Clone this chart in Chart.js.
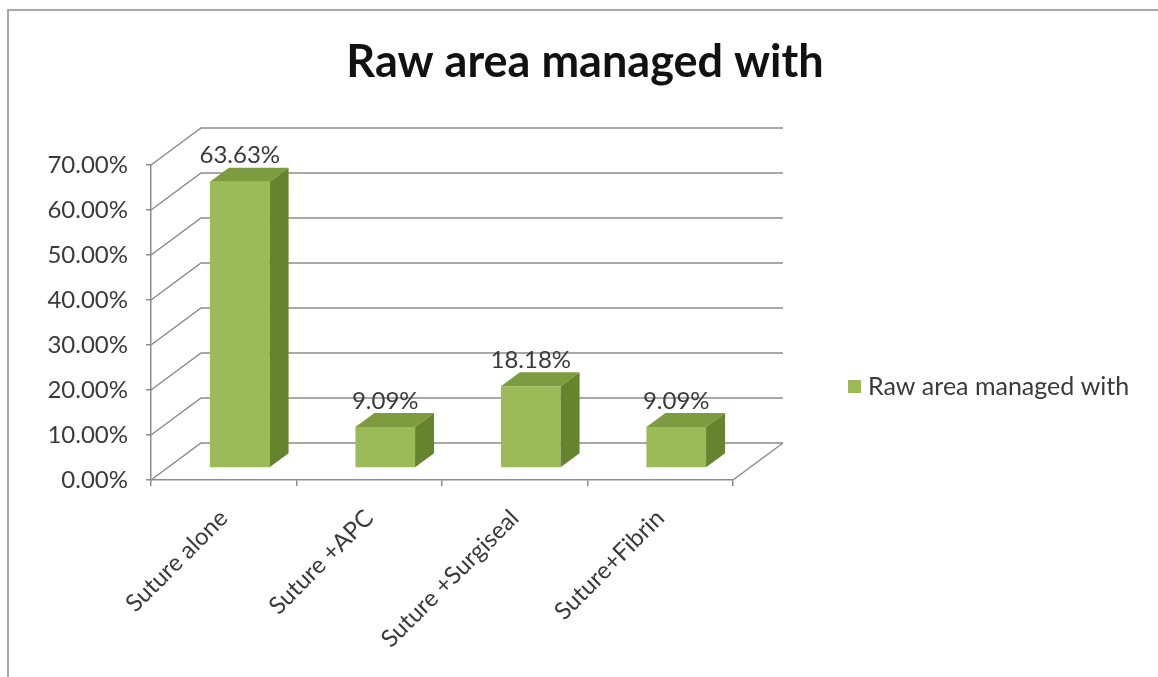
<!DOCTYPE html>
<html>
<head>
<meta charset="utf-8">
<title>Raw area managed with</title>
<script src="https://cdn.jsdelivr.net/npm/chart.js@4.4.1/dist/chart.umd.min.js"></script>
<style>
  html, body { margin: 0; padding: 0; background: #ffffff; }
  canvas { display: block; }
</style>
</head>
<body>
<canvas id="chart" width="1158" height="677"></canvas>
<script>
// Chart content
const chartTitle = 'Raw area managed with';
const seriesName = 'Raw area managed with';
const categories = ['Suture alone', 'Suture +APC', 'Suture +Surgiseal', 'Suture+Fibrin'];
const values = [63.63, 9.09, 18.18, 9.09];
const yMin = 0;
const yMax = 70;
const yStep = 10;

// Styling
const FONT = 'Lato, "Open Sans", sans-serif';
const TEXT = '#3a3a3a';
const LINE = '#8c8c8c';
const FRONT = '#9bbb59';
const TOP = '#7d9b3f';
const SIDE = '#66832e';

// Pseudo-3D geometry: depth of the floor and placement of the columns inside it
const FLOOR = { dx: 50, dy: -37 };
const BAR_OFF = { dx: 16, dy: -12 };
const BAR_DEPTH = { dx: 19, dy: -14 };

const fmtPct = v => Number(v).toFixed(2) + '%';

const scene3d = {
  id: 'scene3d',
  beforeDraw(chart) {
    const ctx = chart.ctx;
    ctx.save();
    ctx.fillStyle = '#ffffff';
    ctx.fillRect(0, 0, chart.width, chart.height);
    // outer chart frame
    ctx.strokeStyle = '#a8a8a8';
    ctx.lineWidth = 2;
    ctx.beginPath();
    ctx.moveTo(8, chart.height);
    ctx.lineTo(8, 10);
    ctx.lineTo(chart.width, 10);
    ctx.stroke();
    ctx.restore();
  },
  beforeDatasetsDraw(chart) {
    const { ctx, chartArea: a, scales: { y } } = chart;
    ctx.save();
    ctx.strokeStyle = LINE;
    ctx.lineWidth = 1.5;
    // side-wall diagonals and back-wall gridlines
    y.ticks.forEach(t => {
      const py = y.getPixelForValue(t.value);
      ctx.beginPath();
      ctx.moveTo(a.left, py);
      ctx.lineTo(a.left + FLOOR.dx, py + FLOOR.dy);
      ctx.lineTo(a.right + FLOOR.dx, py + FLOOR.dy);
      ctx.stroke();
    });
    // right edge of the floor
    ctx.beginPath();
    ctx.moveTo(a.right, a.bottom);
    ctx.lineTo(a.right + FLOOR.dx, a.bottom + FLOOR.dy);
    ctx.stroke();
    ctx.restore();
  },
  beforeDatasetDraw(chart) {
    chart.ctx.save();
    chart.ctx.translate(BAR_OFF.dx, BAR_OFF.dy);
  },
  afterDatasetDraw(chart, args) {
    const ctx = chart.ctx;
    args.meta.data.forEach(el => {
      const { x, y, base, width } = el.getProps(['x', 'y', 'base', 'width'], true);
      const l = x - width / 2;
      const r = x + width / 2;
      // side face
      ctx.fillStyle = SIDE;
      ctx.beginPath();
      ctx.moveTo(r, y);
      ctx.lineTo(r + BAR_DEPTH.dx, y + BAR_DEPTH.dy);
      ctx.lineTo(r + BAR_DEPTH.dx, base + BAR_DEPTH.dy);
      ctx.lineTo(r, base);
      ctx.closePath();
      ctx.fill();
      // top face
      ctx.fillStyle = TOP;
      ctx.beginPath();
      ctx.moveTo(l, y);
      ctx.lineTo(l + BAR_DEPTH.dx, y + BAR_DEPTH.dy);
      ctx.lineTo(r + BAR_DEPTH.dx, y + BAR_DEPTH.dy);
      ctx.lineTo(r, y);
      ctx.closePath();
      ctx.fill();
    });
    ctx.restore();
  },
  afterDatasetsDraw(chart) {
    const ctx = chart.ctx;
    const meta = chart.getDatasetMeta(0);
    const data = chart.data.datasets[0].data;
    ctx.save();
    ctx.font = '24px ' + FONT;
    ctx.fillStyle = TEXT;
    ctx.textAlign = 'center';
    ctx.textBaseline = 'middle';
    meta.data.forEach((el, i) => {
      const { x, y } = el.getProps(['x', 'y'], true);
      ctx.fillText(fmtPct(data[i]), x + BAR_OFF.dx, y + BAR_OFF.dy + BAR_DEPTH.dy - 12);
    });
    ctx.restore();
  },
  afterDraw(chart) {
    const ctx = chart.ctx;
    ctx.save();
    // title
    ctx.font = 'bold 45px ' + FONT;
    ctx.fillStyle = '#111111';
    ctx.textAlign = 'center';
    ctx.textBaseline = 'middle';
    ctx.fillText(chartTitle, 585, 62);
    // legend
    ctx.fillStyle = FRONT;
    ctx.fillRect(848, 380, 13, 13);
    ctx.font = '25px ' + FONT;
    ctx.fillStyle = TEXT;
    ctx.textAlign = 'left';
    ctx.fillText(chart.data.datasets[0].label, 868, 387);
    ctx.restore();
  }
};

new Chart(document.getElementById('chart'), {
  type: 'bar',
  data: {
    labels: categories,
    datasets: [{
      label: seriesName,
      data: values,
      backgroundColor: FRONT,
      borderWidth: 0,
      categoryPercentage: 1,
      barPercentage: 0.41
    }]
  },
  options: {
    responsive: false,
    animation: false,
    devicePixelRatio: 1,
    layout: { padding: { left: 0, top: 165, right: 425, bottom: 0 } },
    plugins: {
      legend: { display: false },
      tooltip: { enabled: false },
      title: { display: false }
    },
    scales: {
      x: {
        grid: { offset: true, drawOnChartArea: false, drawTicks: true, tickLength: 6, color: LINE, lineWidth: 1.5 },
        border: { color: LINE, width: 1.5 },
        ticks: { minRotation: 45, maxRotation: 45, font: { family: FONT, size: 24 }, color: TEXT, padding: 18 },
        afterFit: s => { s.height = 197; }
      },
      y: {
        min: yMin,
        max: yMax,
        grid: { drawOnChartArea: false, drawTicks: true, tickLength: 5, color: LINE, lineWidth: 1.5 },
        border: { color: LINE, width: 1.5 },
        ticks: { stepSize: yStep, callback: v => fmtPct(v), font: { family: FONT, size: 24 }, color: TEXT, padding: 18 },
        afterFit: s => { s.width = 151; }
      }
    }
  },
  plugins: [scene3d]
});
</script>
</body>
</html>
